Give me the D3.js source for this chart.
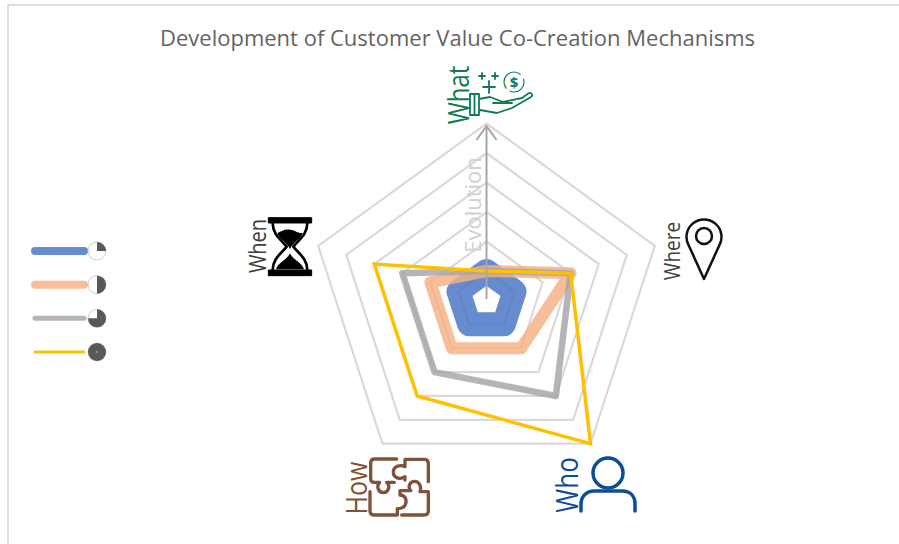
<!DOCTYPE html>
<html>
<head>
<meta charset="utf-8">
<script src="https://cdn.jsdelivr.net/npm/d3@7"></script>
<style>
html, body { margin: 0; padding: 0; background: #fff; overflow: hidden; }
text { font-family: "Open Sans", sans-serif; }
</style>
</head>
<body>
<svg id="chart" width="899" height="544"></svg>
<script>
const axes = ['What', 'Where', 'Who', 'How', 'When'];
const levels = [1, 2, 3, 4, 5, 6];
const stage1 = [1, 1, 1, 1, 1];
const stage2 = [1, 3, 2, 2, 2];
const stage3 = [1, 3, 4, 3, 3];
const stage4 = [1, 3, 6, 4, 4];
const stageShare = [0.25, 0.5, 0.75, 1];

const svg = d3.select('#chart');
const cx = 486.5, cy = 300.5;

const r = d3.scaleLinear().domain([0, 6]).range([0, 177]);
const angle = d3.scalePoint().domain(axes.concat('end')).range([0, 2 * Math.PI]);
const radar = d3.lineRadial()
    .angle((d, i) => angle(axes[i]))
    .radius(d => r(d))
    .curve(d3.curveLinearClosed);

// cadre de la capture
svg.append('path').attr('d', 'M8 544V5H899').attr('fill', 'none').attr('stroke', '#dedede').attr('stroke-width', 2);

svg.append('text').attr('x', 457.5).attr('y', 46).attr('text-anchor', 'middle')
    .attr('font-size', 22).attr('fill', '#636363')
    .text('Development of Customer Value Co-Creation Mechanisms');

const plot = svg.append('g').attr('transform', `translate(${cx},${cy})`);

plot.selectAll('path.ring').data(levels).enter().append('path')
    .attr('class', 'ring')
    .attr('d', d => radar(axes.map(() => d)))
    .attr('fill', 'none').attr('stroke', '#d9d9d9').attr('stroke-width', 2.2);

const series = [
    { values: stage1, color: '#4472c4', width: 24, opacity: 0.82, legend: 8 },
    { values: stage2, color: '#f4b183', width: 12, opacity: 0.82, legend: 8 },
    { values: stage3, color: '#a5a5a5', width: 6.5, opacity: 0.82, legend: 5 },
    { values: stage4, color: '#ffc000', width: 3.5, opacity: 1, legend: 3 }
];

plot.selectAll('path.serie').data(series).enter().append('path')
    .attr('class', 'serie')
    .attr('d', d => radar(d.values))
    .attr('fill', 'none')
    .attr('stroke', d => d.color)
    .attr('stroke-width', d => d.width)
    .attr('stroke-opacity', d => d.opacity)
    .attr('stroke-linejoin', d => d.width > 5 ? 'round' : 'miter');

// fleche Evolution
svg.append('path').attr('d', `M${cx} 299V126M${cx - 10} 140L${cx} 126L${cx + 10} 140`)
    .attr('fill', 'none').attr('stroke', '#a6a6a6').attr('stroke-width', 2);
svg.append('text').attr('transform', 'translate(481,205) rotate(-90)').attr('text-anchor', 'middle')
    .attr('font-size', 22).attr('fill', '#d0d0d0').text('Evolution');

// libelles verticaux, un peu etires comme dans l'image d'origine
const labelPos = [
    { x: 469, y: 95, color: '#107c4f', size: 24 },
    { x: 680, y: 251, color: '#404040', size: 19 },
    { x: 578, y: 485, color: '#0f4c96', size: 26 },
    { x: 367, y: 488, color: '#7f5239', size: 25 },
    { x: 266, y: 246, color: '#404040', size: 20 }
];
svg.selectAll('text.axis').data(axes).enter().append('text')
    .attr('class', 'axis')
    .attr('transform', (d, i) => `translate(${labelPos[i].x},${labelPos[i].y}) rotate(-90) scale(1,1.18)`)
    .attr('text-anchor', 'middle')
    .attr('font-size', (d, i) => labelPos[i].size)
    .attr('fill', (d, i) => labelPos[i].color)
    .text(d => d);

function icon(d, color, w) {
    return svg.append('path').attr('d', d).attr('fill', 'none').attr('stroke', color)
        .attr('stroke-width', w).attr('stroke-linejoin', 'round').attr('stroke-linecap', 'round');
}

// What : main et dollar
const green = '#107c4f';
icon('M470 94h9v21h-9zM474.500 94v21M479 99l11-2 13 5 19-4 7-5c3-1 4 3 2 4l-19 11-15 5-17-3M493 103h19', green, 1.8);
icon('M479 76h6M482 73v6M492 76h6M495 73v6M483 87h12M489 81v12', green, 1.8);
svg.append('circle').attr('cx', 514).attr('cy', 82).attr('r', 10).attr('fill', 'none').attr('stroke', green).attr('stroke-width', 1.2).attr('stroke-dasharray', '20 4 30 5');
svg.append('text').attr('x', 514).attr('y', 87.500).attr('text-anchor', 'middle').attr('font-size', 15).attr('font-weight', 700).attr('fill', green).text('$');

// Where : repere
icon('M704 279L689 246a17.500 17.500 0 1 1 30 0Z', '#111', 2.5);
svg.append('circle').attr('cx', 704).attr('cy', 236).attr('r', 8).attr('fill', 'none').attr('stroke', '#111').attr('stroke-width', 2.5);

// Who : personne
const blue = '#0f4c96';
svg.append('circle').attr('cx', 608).attr('cy', 473).attr('r', 15).attr('fill', 'none').attr('stroke', blue).attr('stroke-width', 3.5);
icon('M581 511V504c0-8 6-13 13-13h28c8 0 13 5 13 13v7', blue, 3.5);

// How : puzzle (trace dans le repere du zoom x3)
const puzzle = svg.append('g').attr('transform', 'translate(340,450) scale(0.3333)');
puzzle.append('path')
    .attr('d', 'M170 27H102Q92 28 92 40V86Q92 97 103 97H119C108 108 115 128 130 128C146 128 152 108 140 97H163'
        + 'M195 28H253Q265 28 265 40V95M195 28V50C180 42 160 50 160 66C160 84 180 90 195 80V90'
        + 'M265 125V182Q265 195 252 195H185M265 125H240C246 108 236 94 224 94C210 94 202 110 212 122H180V135'
        + 'C195 135 202 150 196 164C190 176 180 176 172 176V195'
        + 'M90 125V183Q90 195 102 195H172')
    .attr('fill', 'none').attr('stroke', '#7f5239').attr('stroke-width', 10)
    .attr('stroke-linecap', 'round').attr('stroke-linejoin', 'round');

// When : sablier (trace dans le repere du zoom x3)
const hg = svg.append('g').attr('transform', 'translate(240,205) scale(0.3333)');
hg.append('path').attr('d', 'M85 38H215V54H85ZM85 195H215V212H85Z').attr('fill', '#000')
    .attr('stroke', '#000').attr('stroke-width', 3).attr('stroke-linejoin', 'round');
hg.append('path').attr('d', 'M98 54C98 90 125 105 140 125C125 145 98 160 98 195M202 54C202 90 175 105 160 125C175 145 202 160 202 195')
    .attr('fill', 'none').attr('stroke', '#000').attr('stroke-width', 8);
hg.append('path').attr('d', 'M112 84C130 76 136 72 150 74C166 76 172 84 188 84C180 105 160 110 150 132C140 110 120 105 112 84ZM108 193C112 175 140 165 150 145C160 165 188 175 192 193Z').attr('fill', '#000');

// legende
const legendY = d3.scalePoint().domain(stageShare).range([251, 352]);
const legend = svg.selectAll('g.legend').data(stageShare).enter().append('g')
    .attr('class', 'legend')
    .attr('transform', d => `translate(0,${legendY(d)})`);
legend.append('line')
    .attr('x1', 35).attr('x2', 84)
    .attr('stroke', (d, i) => series[i].color)
    .attr('stroke-opacity', (d, i) => series[i].opacity)
    .attr('stroke-width', (d, i) => series[i].legend)
    .attr('stroke-linecap', 'round');
legend.append('circle').attr('cx', 97).attr('r', 9)
    .attr('fill', '#fff').attr('stroke', '#bfbfbf').attr('stroke-width', 0.8);
const pie = d3.arc().innerRadius(0).outerRadius(9).startAngle(0);
legend.append('path')
    .attr('transform', 'translate(97,0)')
    .attr('d', d => pie({ endAngle: d * 2 * Math.PI }))
    .attr('fill', '#595959');
legend.filter(d => d === 1).append('circle').attr('cx', 97).attr('r', 0.8).attr('fill', '#ccc');
</script>
</body>
</html>
